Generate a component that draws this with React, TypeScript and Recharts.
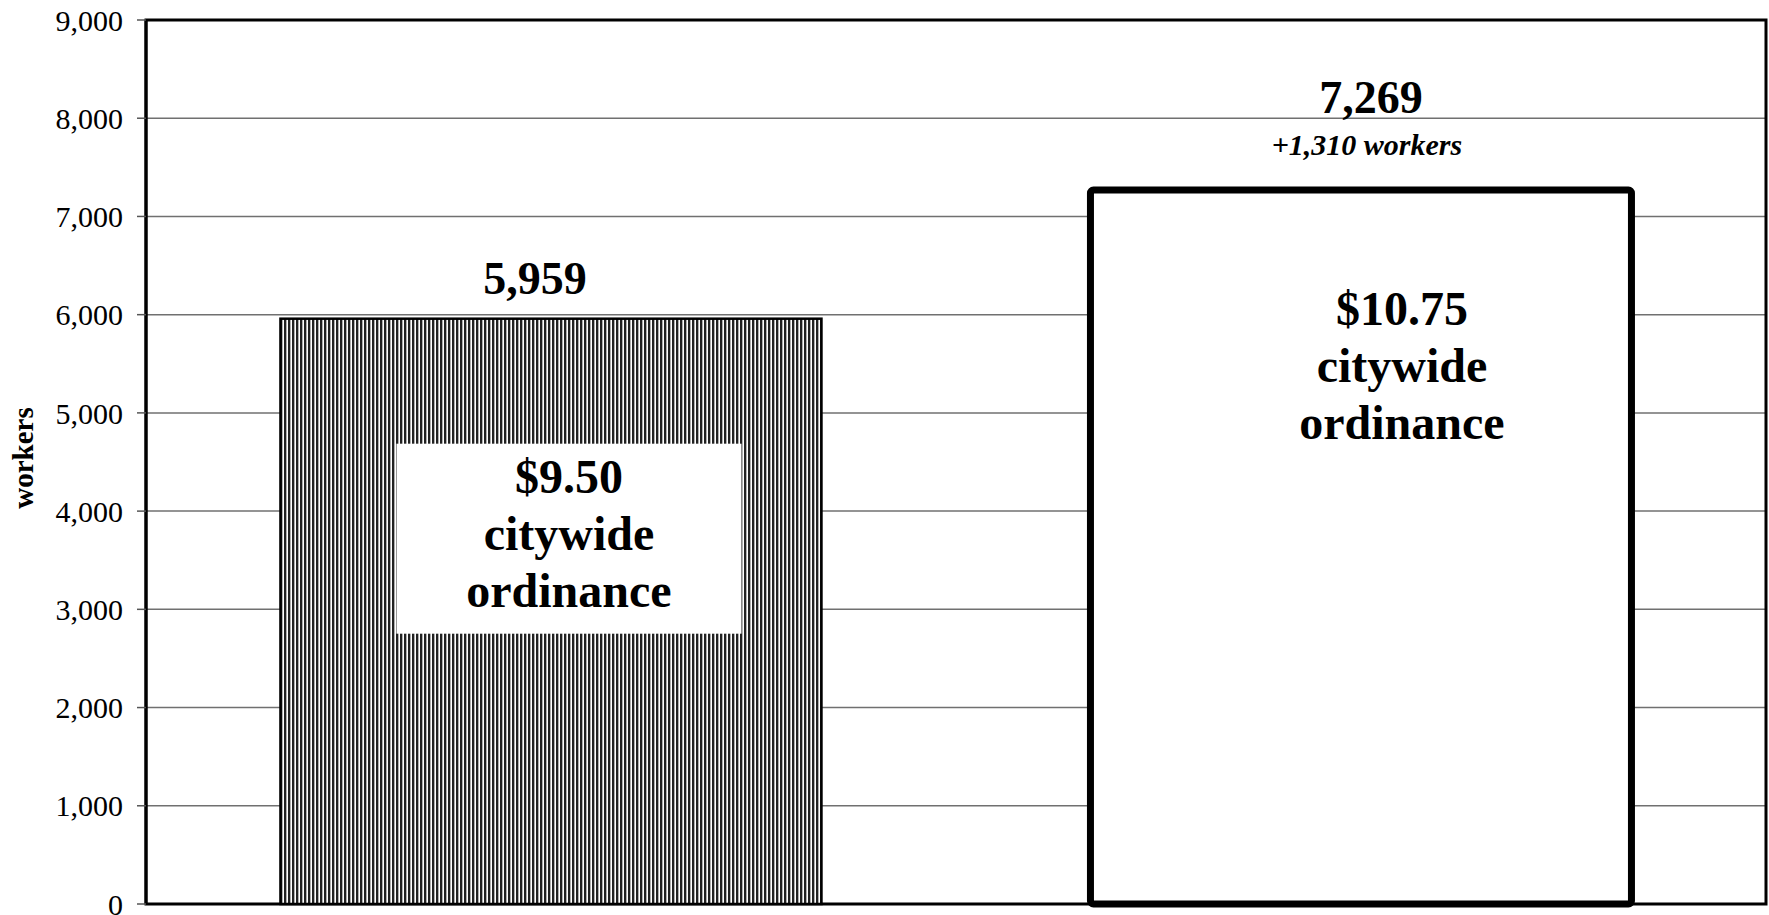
import React from 'react';
import { BarChart, Bar, XAxis, YAxis, CartesianGrid, ReferenceArea } from 'recharts';

// ---- data ----
const categories = ['$9.50 citywide ordinance', '$10.75 citywide ordinance'];
const wageLabels = ['$9.50', '$10.75'];
const workers = [5959, 7269];
const insideLines = ['citywide', 'ordinance'];
const yTicks = [0, 1000, 2000, 3000, 4000, 5000, 6000, 7000, 8000, 9000];
const yLabel = 'workers';

const data = categories.map((name, i) => ({ name, workers: workers[i], wage: wageLabels[i] }));
const boundaries = Array.from({ length: categories.length + 1 }, (_, i) => i);
const fmt = (v: number) => v.toLocaleString('en-US');
const diffLabel = `+${fmt(workers[1] - workers[0])} workers`;
const yMax = yTicks[yTicks.length - 1];

// ---- layout / style (kept apart from data) ----
const W = 1769;
const H = 915;
const FONT = '"Liberation Serif", "Times New Roman", serif';
const barStyles = [
  { fill: 'url(#vstripes)', stroke: '#000', strokeWidth: 2.5, rx: 0, topDx: -16, topDy: -25, innerDx: 18, innerDy: 174, box: { dx: 116, dy: 125, w: 345, h: 190 } },
  { fill: '#ffffff', stroke: '#000', strokeWidth: 7, rx: 3, topDx: 10, topDy: -77, subDx: 6, subDy: -35, innerDx: 41, innerDy: 135, box: null },
];
const LINE_H = 57;

const BarShape = (props: any) => {
  const { x, y, width, height, payload } = props;
  let index = props.index;
  if (typeof index !== 'number') index = categories.indexOf(payload?.name);
  const s: any = barStyles[index] || barStyles[0];
  const cx = x + width / 2;
  const top = { fontFamily: FONT, fontWeight: 'bold' as const, fontSize: 46, fill: '#000', textAnchor: 'middle' as const };
  const inner = { ...top, fontSize: 48 };
  return (
    <g>
      <rect x={x} y={y} width={width} height={height} fill={s.fill} stroke={s.stroke} strokeWidth={s.strokeWidth} rx={s.rx} ry={s.rx} />
      {s.box && <rect x={x + s.box.dx} y={y + s.box.dy} width={s.box.w} height={s.box.h} fill="#fff" />}
      <text x={cx + s.topDx} y={y + s.topDy} {...top}>{fmt(payload?.workers ?? workers[index])}</text>
      {index === 1 && (
        <text x={cx + s.subDx} y={y + s.subDy} fontFamily={FONT} fontWeight="bold" fontStyle="italic" fontSize={30} textAnchor="middle" fill="#000">
          {diffLabel}
        </text>
      )}
      <text x={cx + s.innerDx} y={y + s.innerDy} {...inner}>{wageLabels[index]}</text>
      {insideLines.map((ln, k) => (
        <text key={k} x={cx + s.innerDx} y={y + s.innerDy + LINE_H * (k + 1)} {...inner}>{ln}</text>
      ))}
    </g>
  );
};

const YTitle = (props: any) => {
  const vb = props.viewBox || { x: 0, y: 20, width: 146, height: 884 };
  const x = vb.x + 33;
  const y = vb.y + vb.height / 2 - 4;
  return (
    <text x={x} y={y} transform={`rotate(-90 ${x} ${y})`} textAnchor="middle" fontFamily={FONT} fontWeight="bold" fontSize={29} fill="#000">
      {yLabel}
    </text>
  );
};

export default function App() {
  return (
    <div style={{ position: 'absolute', left: 0, top: 0, width: W, height: H, overflow: 'hidden', background: '#fff' }}>
      <BarChart width={W} height={H} data={data} margin={{ top: 20, right: 3, bottom: 0, left: 0 }} barCategoryGap="16.6%" style={{ fontFamily: FONT }}>
        <defs>
          <pattern id="vstripes" patternUnits="userSpaceOnUse" x="0" y="0" width="4" height="4">
            <rect x="0" y="0" width="4" height="4" fill="#ffffff" />
            <rect x="0" y="0" width="2" height="4" fill="#222222" />
            <rect x="2" y="0" width="1" height="4" fill="#b0b0b0" />
          </pattern>
        </defs>
        <CartesianGrid vertical={false} stroke="#707070" strokeWidth={1.5} />
        <XAxis dataKey="name" hide />
        <XAxis
          xAxisId="ticks"
          type="number"
          domain={[0, categories.length]}
          ticks={boundaries}
          allowDataOverflow
          height={11}
          tick={false}
          tickSize={10}
          tickLine={{ stroke: '#555', strokeWidth: 1.5 }}
          axisLine={{ stroke: '#000', strokeWidth: 3 }}
        />
        <YAxis
          width={146}
          domain={[0, yMax]}
          ticks={yTicks}
          interval={0}
          tickFormatter={fmt}
          tickSize={9}
          tickMargin={14}
          tick={{ fontSize: 30, fill: '#000', fontFamily: FONT }}
          tickLine={{ stroke: '#555', strokeWidth: 1.5 }}
          axisLine={{ stroke: '#000', strokeWidth: 3 }}
          label={<YTitle />}
        />
        <ReferenceArea
          x1={categories[0]}
          x2={categories[categories.length - 1]}
          y1={0}
          y2={yMax}
          fill="none"
          fillOpacity={0}
          stroke="#000"
          strokeWidth={3}
          ifOverflow="visible"
        />
        <Bar dataKey="workers" isAnimationActive={false} shape={BarShape} />
      </BarChart>
    </div>
  );
}
